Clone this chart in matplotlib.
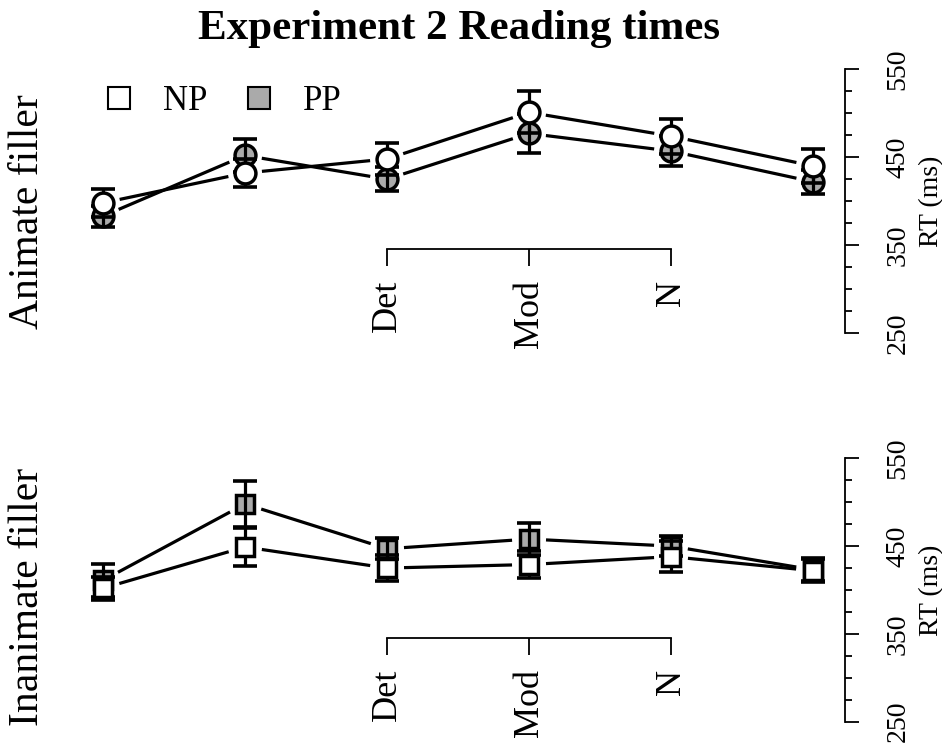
import matplotlib
matplotlib.use("Agg")
import matplotlib.pyplot as plt
from matplotlib.lines import Line2D
import numpy as np

plt.rcParams['font.family'] = ['Liberation Serif', 'DejaVu Serif']

# x positions 1..6, only 3..5 are labelled
positions = [1, 2, 3, 4, 5, 6]
tick_pos = [3, 4, 5]
tick_labels = ["Det", "Mod", "N"]

# Animate filler (circles)
anim_np = [398, 432, 448, 501, 474, 440]
anim_np_se = [16, 16, 18, 24, 20, 19]
anim_pp = [383, 452, 425, 477, 457, 422]
anim_pp_se = [12, 19, 14, 22, 17, 14]

# Inanimate filler (squares)
inan_np = [402, 449, 425, 429, 438, 422]
inan_np_se = [13, 22, 15, 15, 18, 13]
inan_pp = [411, 498, 447, 458, 450, 423]
inan_pp_se = [19, 26, 12, 18, 11, 13]

W, H = 942, 744
GRAY = '#aaaaaa'
GAP = 17  # px gap around points, like R type="b"


def px_axes(left, right, top, bottom):
    return [left / W, (H - bottom) / H, (right - left) / W, (bottom - top) / H]


def gapped_line(ax, xs, ys, z):
    pts = ax.transData.transform(np.column_stack([xs, ys]))
    inv = ax.transData.inverted()
    for i in range(len(pts) - 1):
        a, b = pts[i], pts[i + 1]
        d = b - a
        n = np.hypot(*d)
        if n <= 2 * GAP:
            continue
        u = d / n
        seg = inv.transform(np.array([a + u * GAP, b - u * GAP]))
        ax.plot(seg[:, 0], seg[:, 1], color='black', lw=2.3,
                solid_capstyle='butt', zorder=z, clip_on=False)


def panel(ax, np_vals, np_se, pp_vals, pp_se, marker, ms):
    ax.set_xlim(0.8, 6.225)
    ax.set_ylim(250, 550)
    fig.canvas.draw()
    # PP first, then error bars, then NP on top
    gapped_line(ax, positions, pp_vals, 2)
    ax.plot(positions, pp_vals, linestyle='none', marker=marker, ms=ms,
            mfc=GRAY, mec='black', mew=2.5, zorder=2, clip_on=False)
    for vals, se in ((pp_vals, pp_se), (np_vals, np_se)):
        ax.errorbar(positions, vals, yerr=se, fmt='none', ecolor='black',
                    elinewidth=2.3, capsize=8.5, capthick=2.6, zorder=3,
                    clip_on=False)
    gapped_line(ax, positions, np_vals, 4)
    ax.plot(positions, np_vals, linestyle='none', marker=marker, ms=ms,
            mfc='white', mec='black', mew=2.5, zorder=4, clip_on=False)

    for s in ['top', 'left']:
        ax.spines[s].set_visible(False)
    ax.spines['right'].set_bounds(250, 550)
    ax.spines['bottom'].set_position(('data', 345))
    ax.spines['bottom'].set_bounds(3, 5)
    for s in ['right', 'bottom']:
        ax.spines[s].set_linewidth(1.3)

    ax.set_xticks(tick_pos)
    ax.set_xticklabels(tick_labels, rotation=90, fontsize=26)
    ax.tick_params(axis='x', direction='out', length=12, width=1.3, pad=10)

    ax.yaxis.tick_right()
    ax.set_yticks([250, 350, 450, 550])
    ax.set_yticks(np.arange(275, 550, 25), minor=True)
    ax.set_yticklabels(['250', '350', '450', '550'], rotation=90,
                       va='center', fontsize=20)
    ax.tick_params(axis='y', which='major', direction='out', length=10,
                   width=1.3, pad=19)
    ax.tick_params(axis='y', which='minor', direction='out', length=5,
                   width=1.3)
    ax.yaxis.set_label_position('right')
    ax.set_ylabel('RT (ms)', fontsize=20, rotation=90, labelpad=6)
    ax.patch.set_visible(False)


fig = plt.figure(figsize=(W / 100, H / 100), dpi=100)
ax1 = fig.add_axes(px_axes(74.6, 845, 69.3, 333))
ax2 = fig.add_axes(px_axes(74.6, 845, 458.3, 721.7))

panel(ax1, anim_np, anim_np_se, anim_pp, anim_pp_se, 'o', 15)
panel(ax2, inan_np, inan_np_se, inan_pp, inan_pp_se, 's', 13)

handles = [Line2D([], [], linestyle='none', marker='s', ms=16, mfc='white',
                  mec='black', mew=1.5),
           Line2D([], [], linestyle='none', marker='s', ms=16, mfc=GRAY,
                  mec='black', mew=1.5)]
ax1.legend(handles, ['NP', 'PP'], ncol=2, frameon=False, fontsize=25,
           loc='center left', bbox_to_anchor=(102 / W, (H - 102) / H),
           bbox_transform=fig.transFigure, handlelength=1.0,
           handletextpad=0.75, columnspacing=1.0, borderpad=0,
           borderaxespad=0)

fig.text(459 / W, 1 - 29 / H, 'Experiment 2 Reading times', ha='center',
         va='center', fontsize=31, fontweight='bold')
fig.text(28 / W, 1 - 212 / H, 'Animate filler', rotation=90, ha='center',
         va='center', fontsize=30)
fig.text(28 / W, 1 - 597 / H, 'Inanimate filler', rotation=90, ha='center',
         va='center', fontsize=30)

fig.savefig('out.png', dpi=100)
